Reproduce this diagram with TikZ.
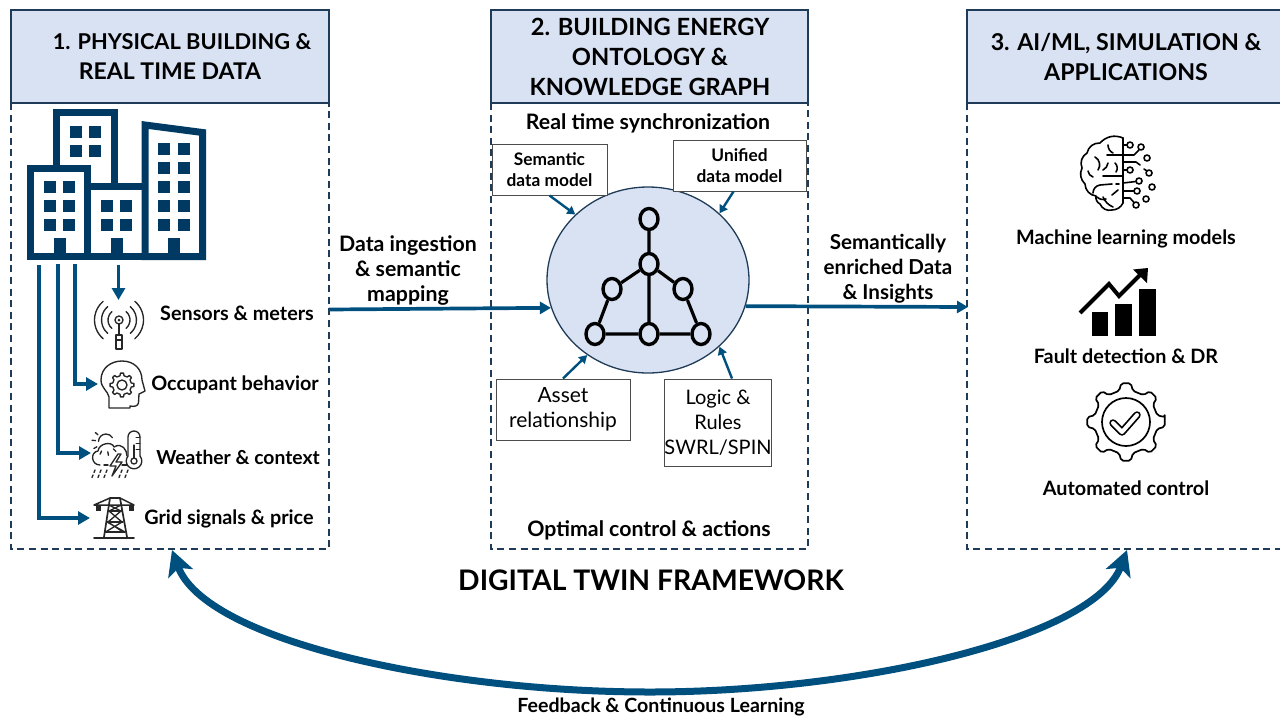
\documentclass[tikz,border=0pt]{standalone}
\usepackage{fontspec}
\setmainfont{Lato}
\usetikzlibrary{arrows.meta,shapes.geometric}
\definecolor{blueline}{HTML}{00507F}
\definecolor{navy}{HTML}{003A63}
\definecolor{frameblue}{HTML}{1F3B57}
\definecolor{headfill}{HTML}{D9E2F3}
\newcommand{\fs}[1]{\fontsize{#1}{#1}\selectfont}
\newcommand{\gearshape}[6]{% x y router rroot teeth style
  \begin{scope}[shift={(#1,#2)}]
  \pgfmathsetmacro{\stepang}{360/#5}
  \draw[#6] (-0.16*\stepang:#3)
    \foreach \k in {1,...,#5}{
      -- ({(\k-1)*\stepang+0.16*\stepang}:#3)
      -- ({(\k-1)*\stepang+0.27*\stepang}:#4)
      -- ({\k*\stepang-0.27*\stepang}:#4)
      -- ({\k*\stepang-0.16*\stepang}:#3)
    } -- cycle;
  \end{scope}}
\tikzset{
  x=1pt,y=-1pt,
  head/.style={rectangle,draw=frameblue,fill=headfill,line width=1.4pt,inner sep=0},
  headtext/.style={font=\fs{23}\bfseries,align=center,text depth=0pt,inner sep=0},
  frameline/.style={draw=frameblue,line width=1.5pt,dash pattern=on 7pt off 4.6pt},
  lab/.style={font=\fs{19.8}\bfseries,inner sep=0},
  midlab/.style={font=\fs{21.3}\bfseries,inner sep=0},
  smallbox/.style={rectangle,draw=black!70,fill=white,line width=1pt,inner sep=0,align=center},
  feed/.style={draw=blueline,line width=3.7pt,-{Triangle[length=12pt,width=13pt]}},
  mainarrow/.style={draw=blueline,line width=3.7pt,-{Triangle[length=11pt,width=12pt]}},
  tiny/.style={draw=blueline,line width=2.4pt,-{Triangle[length=8pt,width=9pt]}},
  gnode/.style={ellipse,draw=black,fill=headfill,line width=3.4pt,minimum width=18pt,minimum height=21pt,inner sep=0},
  gedge/.style={draw=black,line width=3.2pt},
  icon/.style={draw=black!85,line width=1.35pt,line cap=round,line join=round},
  bld/.style={draw=navy,line width=7pt,miter limit=10},
  win/.style={fill=navy,draw=none},
}
\begin{document}
\begin{tikzpicture}
\useasboundingbox (0,0) rectangle (1280,716);
% frames
\draw[frameline] (11,103)--(11,549)--(329,549)--(329,103);
\draw[frameline] (491,103)--(491,549)--(808,549)--(808,103);
\draw[frameline] (967,103)--(967,549)--(1290,549);
% headers
\node[head,minimum width=318pt,minimum height=93pt] (h1) at (170,56.5) {};
\node[head,minimum width=317pt,minimum height=93pt] (h2) at (649.5,56.5) {};
\node[head,minimum width=323pt,minimum height=93pt] (h3) at (1128.5,56.5) {};
\node[headtext] (h1t) at (170,56.5) {\hspace*{24pt}{\fs{21.8}1. PHYSICAL BUILDING \&}\\[7pt]REAL TIME DATA};
\node[headtext,font=\fs{23.7}\bfseries] (h2t) at (650,56.5) {2. BUILDING ENERGY\\[6.3pt]ONTOLOGY \&\\[6.3pt]KNOWLEDGE GRAPH};
\node[headtext,font=\fs{23.2}\bfseries] (h3t) at (1126,56.5) {3. AI/ML, SIMULATION \&\\[6.8pt]APPLICATIONS};
% building
\draw[bld] (56.5,168)--(56.5,112.5)--(114.5,112.5)--(114.5,187);
\draw[bld] (30.4,168)--(87.5,168)--(87.5,256.5)--(30.4,256.5)--cycle;
\draw[bld] (87.5,186.5)--(145,186.5);
\draw[bld] (145,256.5)--(145,125)--(202.5,132.5)--(202.5,256.5)--cycle;
\draw[bld] (87.5,256.5)--(145,256.5);
\foreach \x in {44,63}\foreach \y in {181,200,219}\fill[win] (\x,\y) rectangle +(12,12);
\foreach \x in {101,120}\foreach \y in {200,219}\fill[win] (\x,\y) rectangle +(12,12);
\foreach \x in {158,178}\foreach \y in {143,162,181,200,219}\fill[win] (\x,\y) rectangle +(12,12);
\foreach \x in {70,89}\foreach \y in {126,145}\fill[win] (\x,\y) rectangle +(12,12);
\foreach \x in {53.5,110.5,168}\fill[win] (\x,238) rectangle +(12,16);
% feed lines
\coordinate (bA) at (118.5,265);
\coordinate (bB) at (75,264);
\coordinate (bC) at (58,264);
\coordinate (bD) at (39,265);
\coordinate (iS) at (118.5,300);
\coordinate (iO) at (98,384);
\coordinate (iW) at (91,453);
\coordinate (iG) at (90,518);
\draw[feed] (bA)--(iS);
\draw[feed] (bB)|-(iO);
\draw[feed] (bC)|-(iW);
\draw[feed] (bD)|-(iG);
% sensor icon
\begin{scope}[shift={(119,320)}]
  \foreach \r in {11,17.5,24.5}{
    \draw[icon] (-50:\r) arc[start angle=-50,end angle=50,radius=\r];
    \draw[icon] (130:\r) arc[start angle=130,end angle=230,radius=\r];
  }
  \draw[icon] (0,0) circle (4);
  \fill[black!85] (0,0) circle (1.5);
  \draw[icon] (0,4)--(0,15);
  \draw[icon] (-3,15) rectangle (3,29);
  \draw[icon] (-3,20)--(3,20);
\end{scope}
% head icon
\draw[icon] (109,408)--(109,397) .. controls (108,391) and (101,388) .. (101,380)
  .. controls (101,368) and (111,361) .. (122,361)
  .. controls (134,361) and (142,369) .. (142,380)
  -- (145,391)--(139,394)--(138.5,403) .. controls (138,406) and (134,407) .. (130,406)--(130,408)--cycle;
\gearshape{122}{385}{12}{9.5}{8}{icon}
\draw[icon] (122,385) circle (5);
% weather icon
\draw[icon] (98.5,441.5) arc[start angle=180,end angle=330,radius=7.5];
\foreach \a in {45,80,115,150,185,220}{
  \draw[icon] (106,441.5) ++(\a:10.5) -- ++(\a:3.5);
}
\draw[icon] (100,465) .. controls (91,465) and (90,452) .. (98,451)
  .. controls (99,443) and (112,441) .. (114,447)
  .. controls (122,442) and (127,450) .. (127,456);
\draw[icon] (104,465)--(108,465);
\draw[icon] (122,465)--(127,465);
\draw[icon] (118,454)--(110,466)--(116,466)--(112,476)--(122,462)--(116,462)--(121,454)--cycle;
\draw[icon] (128,456)--(128,437) arc[start angle=180,end angle=360,radius=6] -- (140,456)
  arc[start angle=-40,end angle=220,radius=7.8];
\draw[icon] (134,461) circle (3);
\draw[icon] (134,458)--(134,445);
\draw[icon,line width=1pt] (136,437)--(140,437);
\draw[icon,line width=1pt] (136,443)--(140,443);
\draw[icon,line width=1pt] (136,449)--(140,449);
\foreach \x in {95,101,107,122,128}{
  \draw[icon] (\x,470)--(\x-1,472.5);
  \draw[icon] (\x-2,475)--(\x-3,477.5);
}
% pylon icon
\draw[icon,line width=1.7pt] (94,538)--(134,538);
\draw[icon,line width=1.7pt] (104,537)--(110,498)--(120,498)--(127,537);
\draw[icon,line width=1.5pt] (94,505)--(110,498) (120,498)--(134,505) (94,505)--(134,505);
\draw[icon,line width=1.5pt] (108.5,511)--(121.5,511) (107,522)--(123,522) (105,532)--(125,532);
\draw[icon] (109,505)--(121,511)--(108,522)--(123,532)
  (121,505)--(109,511)--(122,522)--(105.5,532) (107,522)--(125,532);
\fill[black!85] (95.5,505) rectangle (101,511);
\fill[black!85] (129,505) rectangle (134,511);
% side labels
\node[lab] (l1) at (237,313.5) {Sensors \& meters};
\node[lab] (l2) at (235,384.5) {Occupant behavior};
\node[lab,font=\fs{19.3}\bfseries] (l3) at (238,457.5) {Weather \& context};
\node[lab] (l4) at (229,518.5) {Grid signals \& price};
% centre
\node[ellipse,draw=frameblue,fill=headfill,line width=1.3pt,minimum width=202pt,minimum height=186pt,inner sep=0] (hub) at (648,280) {};
\node[gnode] (g1) at (649,219) {};
\node[gnode] (g2) at (649,264) {};
\node[gnode] (g3) at (612,289) {};
\node[gnode] (g4) at (683,289) {};
\node[gnode] (g5) at (595,334) {};
\node[gnode] (g6) at (649,334) {};
\node[gnode] (g7) at (701,334) {};
\draw[gedge] (g1)--(g2) (g2)--(g3) (g2)--(g4) (g2)--(g6) (g3)--(g5) (g4)--(g7) (g5)--(g6) (g6)--(g7);
\node[smallbox,minimum width=115pt,minimum height=51pt,font=\fs{17.3}\bfseries] (sem) at (549.5,169.5) {Semantic\\[3.5pt]data model};
\node[smallbox,minimum width=133pt,minimum height=51pt,font=\fs{17.3}\bfseries] (uni) at (739.5,165.5) {Unified\\[3pt]data model};
\node[smallbox,minimum width=134pt,minimum height=61pt,font=\fs{21}] (ast) at (563,409.5) {Asset\\[4pt]relationship};
\node[smallbox,minimum width=106pt,minimum height=87pt,font=\fs{20}] (lgc) at (718,422.5) {Logic \&\\[5pt]Rules\\[5pt]SWRL/SPIN};
\draw[tiny] (sem.south)--(hub.138);
\draw[tiny] ([xshift=-6pt]uni.south)--(hub.43);
\draw[tiny] (ast.north)--(hub.231);
\draw[tiny] ([xshift=14pt]lgc.north)--(hub.317);
\node[midlab] (rt) at (648,123) {Real time synchronization};
\node[midlab] (oc) at (649,530) {Optimal control \& actions};
\node[font=\fs{28.3}\bfseries,inner sep=0] (dt) at (651,580) {DIGITAL TWIN FRAMEWORK};
% main arrows
\coordinate (f1e) at (329,309.5);
\coordinate (f3w) at (968,307);
\draw[mainarrow] (f1e)--(hub.196);
\draw[mainarrow] (hub.-15.5)--(f3w);
\node[midlab,align=center] (ing) at (408,270.5) {Data ingestion\\[3.7pt]\& semantic\\[3.7pt]mapping};
\node[midlab,align=center,font=\fs{20.6}\bfseries] (enr) at (888,268.5) {Semantically\\[4.4pt]enriched Data\\[4.4pt]\& Insights};
% right column: brain
\begin{scope}[icon,line width=1.6pt,draw=black]
\draw (1123,138) to[bend right=35] (1100,143) to[bend right=40] (1087,153) to[bend right=40] (1082,168) to[bend right=35] (1085,184) to[bend right=40] (1096,196) to[bend right=35] (1100,204) to[bend right=40] (1112,210) to[bend right=30] (1123,203);
\draw (1123,138)--(1123,203);
\draw (1108,145) to[bend right=30] (1113,153);
\draw (1123,155)--(1107,155);
\draw (1095,157) to[bend left=50] (1098,170);
\draw (1103,176)--(1123,176);
\draw (1088,171) to[bend right=30] (1093,177);
\draw (1108,163) to[bend left=25] (1103,170);
\draw (1115,163) to[bend left=40] (1116,172);
\draw (1093,193) to[bend left=40] (1100,185)--(1112,184);
\draw (1116,184)--(1119,184);
\draw (1097,197) to[bend right=30] (1106,199);
\draw (1112,195)--(1118,190);
\draw (1103,197) to[bend right=20] (1113,207);
\draw (1123,145)--(1127,145);
\draw (1123,155)--(1134,155)--(1139,150);
\draw (1123,162)--(1136,162)--(1140,165);
\draw (1123,170)--(1127,170);
\draw (1144,169)--(1147,171);
\draw (1123,183)--(1136,181.5);
\draw (1123,191)--(1134,191);
\draw (1123,198)--(1130,198)--(1134,202.5);
\foreach \p in {(1130,145),(1141,147),(1147,158),(1130,170),(1149,173),(1139,181),(1152,187),(1137,191),(1146,199),(1136,205)}{
  \draw \p circle (3);
}
\end{scope}
% chart
\fill[black] (1092,312) rectangle (1108,336);
\fill[black] (1115,304) rectangle (1132,336);
\fill[black] (1139,289) rectangle (1156,336);
\draw[black,line width=4pt] (1080,313)--(1109,284)--(1119,296)--(1142,273);
\fill[black] (1133,269.5)--(1148,268)--(1147,283)--cycle;
% gear check
\gearshape{1126}{422}{39}{32}{8}{black,line width=1.7pt,rounded corners=2pt,line join=round}
\draw[black,line width=1.7pt] (1126,422) circle (24);
\draw[black,line width=7.5pt,line cap=round,line join=round] (1113,423)--(1122,432)--(1137,415);
\draw[white,line width=4pt,line cap=round,line join=round] (1113,423)--(1122,432)--(1137,415);
\node[lab] (m1) at (1126,238.5) {Machine learning models};
\node[lab] (m2) at (1126,356.5) {Fault detection \& DR};
\node[lab] (m3) at (1126,488.5) {Automated control};
% feedback
\coordinate (fbL) at (172,550);
\coordinate (fbM) at (650,692);
\coordinate (fbR) at (1127,550);
\draw[draw=blueline,line width=7pt,{Stealth[length=25pt,width=26pt,inset=6pt]}-{Stealth[length=25pt,width=26pt,inset=6pt]}]
  (fbL) .. controls (205,640) and (440,692) .. (fbM) .. controls (860,692) and (1094,638) .. (fbR);
\node[font=\fs{19.6}\bfseries,inner sep=0] (fb) at (661,706.5) {Feedback \& Continuous Learning};
\end{tikzpicture}
\end{document}
